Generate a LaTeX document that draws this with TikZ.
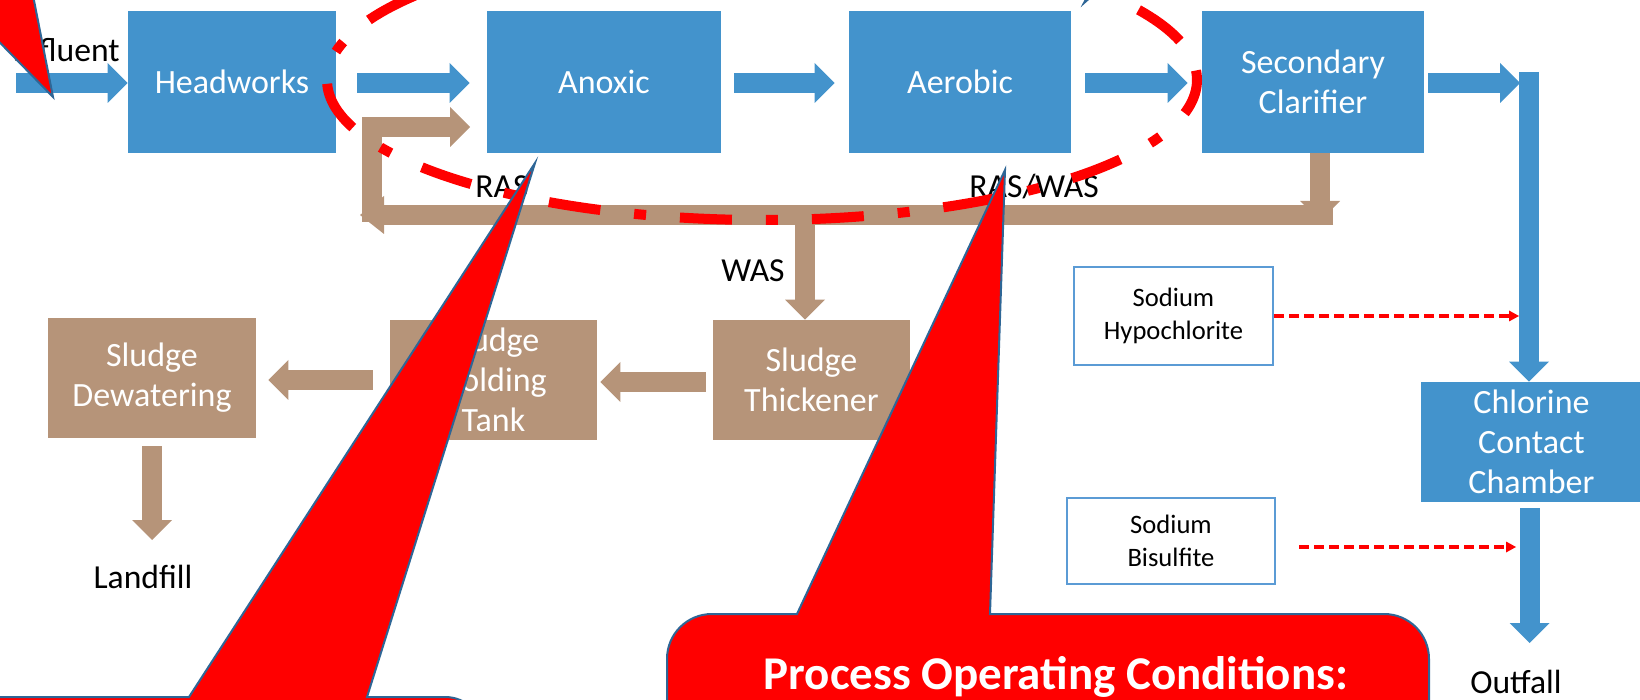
\documentclass[tikz,border=0pt]{standalone}
\usepackage{fontspec}
\setmainfont{Carlito}
\usetikzlibrary{arrows.meta}
\definecolor{bluebox}{RGB}{67,147,204}
\definecolor{brownbox}{RGB}{182,148,121}
\definecolor{calloutedge}{RGB}{46,102,150}
\definecolor{chemedge}{RGB}{91,155,213}
\tikzset{
  procbox/.style={fill=bluebox, text=white, inner sep=0pt, align=center,
    font=\fontsize{17}{20}\selectfont},
  sludgebox/.style={fill=brownbox, text=white, inner sep=0pt, align=center,
    font=\fontsize{17}{20}\selectfont},
  chembox/.style={draw=chemedge, line width=1pt, fill=white, inner sep=0pt, align=center,
    font=\fontsize{13.3}{16.5}\selectfont},
  lbl/.style={text=black, inner sep=0pt, font=\fontsize{16.8}{20}\selectfont},
  fatblue/.style={draw=bluebox, line width=10pt, line join=miter,
    -{Triangle[length=10pt,width=20pt,line width=0pt]}},
  fatbrown/.style={draw=brownbox, line width=10pt, line join=miter,
    -{Triangle[length=10pt,width=20pt,line width=0pt]}},
  dosing/.style={draw=red, line width=2pt, dash pattern=on 5pt off 2.5pt,
    -{Triangle[length=5pt,width=5.5pt,line width=0pt]}},
  callout/.style={fill=red, draw=calloutedge, line width=1pt, line join=miter},
  focus/.style={draw=red, line width=5pt, dash pattern=on 26pt off 17pt on 6pt off 17pt, dash phase=8pt}
}
\begin{document}
\begin{tikzpicture}[x=0.5pt,y=-0.5pt]
\useasboundingbox (0,0) rectangle (1640,700);
\clip (0,0) rectangle (1640,700);

% process boxes
\node[procbox, minimum width=104pt, minimum height=71pt] (hw) at (232,82) {Headworks};
\node[procbox, minimum width=117pt, minimum height=71pt] (anox) at (604,82) {Anoxic};
\node[procbox, minimum width=111pt, minimum height=71pt] (aer) at (960,82) {Aerobic};
\node[procbox, minimum width=111pt, minimum height=71pt] (clar) at (1313,82) {Secondary\\Clarifier};
\node[procbox, minimum width=110.5pt, minimum height=60pt] (chl) at (1531.5,442) {Chlorine\\Contact\\Chamber};

% sludge boxes
\node[sludgebox, minimum width=98.5pt, minimum height=60pt] (thick) at (811.5,380) {Sludge\\Thickener};
\node[sludgebox, minimum width=103.5pt, minimum height=60pt] (hold) at (493.5,380) {Sludge\\Holding\\Tank};
\node[sludgebox, minimum width=104pt, minimum height=60pt] (dew) at (152,378) {Sludge\\Dewatering};

% chemical boxes
\node[chembox, minimum width=99.5pt, minimum height=49pt] (hypo) at (1173.5,316) {Sodium\\Hypochlorite};
\node[chembox, minimum width=104pt, minimum height=43pt] (bisu) at (1171,541) {Sodium\\Bisulfite};

% labels
\node[lbl, anchor=base east] (infl) at (120,62) {Influent};
\node[lbl, anchor=base west] (ras) at (475,198) {RAS};
\node[lbl, anchor=base west] (raswas) at (969,198) {RAS/WAS};
\node[lbl, anchor=base] (was) at (753,282) {WAS};
\node[lbl, anchor=base] (land) at (143,588) {Landfill};
\node[lbl, anchor=base] (out) at (1516,693) {Outfall};

% coordinates for free ends
\coordinate (infStart) at (16,83);
\coordinate (corner) at (1520,83);
\coordinate (vTop) at (1529,72);
\coordinate (outTip) at (1529.5,643);
\coordinate (bandR) at (1333,215);
\coordinate (bandL) at (360,215);
\coordinate (rasBottom) at (372,222);
\coordinate (rasTip) at (470,127);
\coordinate (clarDown) at (1320,221);
\coordinate (wasTop) at (805,224);
\coordinate (landTip) at (152,540);
\coordinate (hypoTip) at (1519,316);
\coordinate (bisuTip) at (1516,547);

% liquid train arrows
\draw[fatblue] (infStart) -- (infStart -| hw.west);
\draw[fatblue] ([xshift=10.5pt,yshift=-0.5pt]hw.east) -- ([xshift=-8.5pt,yshift=-0.5pt]anox.west);
\draw[fatblue] ([xshift=6.5pt,yshift=-0.5pt]anox.east) -- ([xshift=-7pt,yshift=-0.5pt]aer.west);
\draw[fatblue] ([xshift=7pt,yshift=-0.5pt]aer.east) -- ([xshift=-7pt,yshift=-0.5pt]clar.west);
\draw[fatblue] ([xshift=2pt,yshift=-0.5pt]clar.east) -- (corner);
\draw[fatblue] (vTop) -- (vTop |- chl.north);
\draw[fatblue] ([xshift=-1pt,yshift=-3pt]chl.south) -- (outTip);

% sludge arrows
\draw[fatbrown, -{Triangle[length=12pt,width=19pt,line width=0pt]}] (bandR) -- (bandL);
\draw[fatbrown] (rasBottom) |- (rasTip);
\draw[fatbrown] ([xshift=3.5pt]clar.south) -- (clarDown);
\draw[fatbrown] (wasTop) -- ([xshift=-3.25pt]thick.north);
\draw[fatbrown] ([xshift=-3.5pt,yshift=-1pt]thick.west) -- ([xshift=1.5pt,yshift=-1pt]hold.east);
\draw[fatbrown] ([xshift=-8.5pt]hold.west) -- ([xshift=6pt]hold.west -| dew.east);
\draw[fatbrown] ([yshift=-4pt]dew.south) -- (landTip);

% chemical dosing
\draw[dosing] (hypo.east) -- (hypoTip);
\draw[dosing] ([xshift=11.5pt]bisu.east |- bisuTip) -- (bisuTip);

% highlight ellipse
\draw[focus] (762,80) ellipse [x radius=435, y radius=140];

% callouts
\path[callout] (53,97) -- (-30,12) -- (-30,-30) -- (28,-30) -- cycle;
\path[callout] (1084,3) -- (1096,-20) -- (1110,-20) -- cycle;
\path[callout] (-20,760) -- (-20,697) -- (189,697) -- (535,163) -- (367,697) -- (445,697)
  .. controls (467,697) and (485,715) .. (485,737) -- (485,760) -- cycle;
\path[callout] (667,760) -- (667,659) .. controls (667,634) and (687,614) .. (712,614)
  -- (797,614) -- (1005,170) -- (990,614) -- (1384,614)
  .. controls (1409,614) and (1429,634) .. (1429,659) -- (1429,760) -- cycle;
\node[text=white, inner sep=0pt, anchor=base, font=\bfseries\fontsize{23.5}{28}\selectfont] (poc) at (1056,689) {Process Operating Conditions:};
\end{tikzpicture}
\end{document}
